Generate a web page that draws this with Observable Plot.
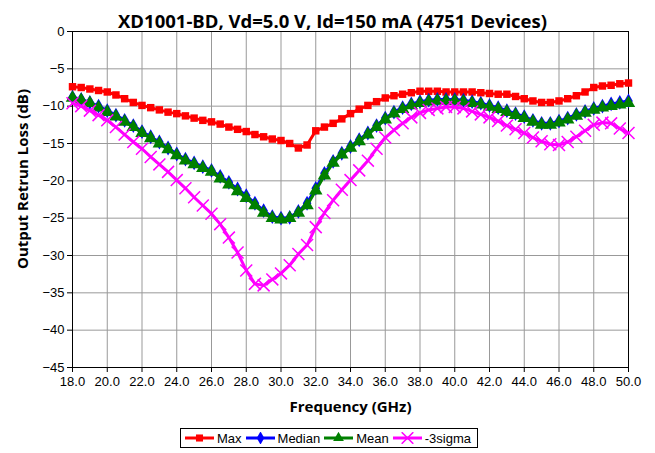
<!DOCTYPE html>
<html>
<head>
<meta charset="utf-8">
<script src="https://cdn.jsdelivr.net/npm/d3@7"></script>
<script src="https://cdn.jsdelivr.net/npm/@observablehq/plot@0.6"></script>
<style>
  html, body { margin: 0; padding: 0; background: #fff; }
  #wrap { position: relative; width: 655px; height: 453px; }
  #legend { position: absolute; left: 180px; top: 428px; height: 20px; border: 1px solid #000;
    display: flex; align-items: center; font-family: "Liberation Sans", Arial, sans-serif; font-size: 13px;
    padding: 0 3px 0 3px; box-sizing: border-box; background: #fff; }
  #legend .item { display: flex; align-items: center; margin-right: 3px; }
  #legend svg { display: block; margin-right: 2px; }
  #ylabel { position: absolute; left: 22px; top: 179px; transform: translate(-50%, -50%) rotate(-90deg);
    white-space: nowrap; font-family: "Open Sans", "DejaVu Sans", sans-serif; font-weight: bold; font-size: 15px; color: #000; }
</style>
</head>
<body>
<div id="wrap">
  <div id="chart"></div>
  <div id="ylabel"></div>
  <div id="legend"></div>
</div>
<script>
const title = "XD1001-BD, Vd=5.0 V, Id=150 mA (4751 Devices)";
const xLabel = "Frequency (GHz)";
const yLabel = "Output Retrun Loss (dB)";
const xTicks = [18, 20, 22, 24, 26, 28, 30, 32, 34, 36, 38, 40, 42, 44, 46, 48, 50];
const yTicks = [0, -5, -10, -15, -20, -25, -30, -35, -40, -45];

const freq = [18, 18.5, 19, 19.5, 20, 20.5, 21, 21.5, 22, 22.5, 23, 23.5, 24, 24.5, 25, 25.5,
  26, 26.5, 27, 27.5, 28, 28.5, 29, 29.5, 30, 30.5, 31, 31.5, 32, 32.5, 33, 33.5,
  34, 34.5, 35, 35.5, 36, 36.5, 37, 37.5, 38, 38.5, 39, 39.5, 40, 40.5, 41, 41.5,
  42, 42.5, 43, 43.5, 44, 44.5, 45, 45.5, 46, 46.5, 47, 47.5, 48, 48.5, 49, 49.5, 50];

const maxVals = [-7.4, -7.5, -7.7, -7.9, -8.1, -8.5, -9.0, -9.5, -9.9, -10.2, -10.5, -10.8, -11.0, -11.3, -11.6, -11.9,
  -12.1, -12.4, -12.8, -13.1, -13.4, -13.8, -14.1, -14.4, -14.6, -15.0, -15.6, -15.2, -13.3, -12.8, -12.3, -11.7,
  -11.0, -10.4, -9.9, -9.4, -8.9, -8.6, -8.4, -8.2, -8.0, -8.0, -8.0, -8.1, -8.1, -8.1, -8.1, -8.2,
  -8.3, -8.4, -8.4, -8.7, -9.0, -9.3, -9.5, -9.5, -9.3, -9.0, -8.6, -8.1, -7.5, -7.3, -7.2, -7.0, -6.9];

const medianVals = [-8.8, -9.1, -9.5, -10.0, -10.6, -11.2, -11.9, -12.6, -13.4, -14.1, -14.8, -15.6, -16.4, -17.1, -17.6, -18.1,
  -18.6, -19.4, -20.2, -21.1, -22.0, -23.0, -24.0, -24.8, -25.0, -24.9, -24.1, -23.0, -21.0, -19.0, -17.4, -16.3,
  -15.4, -14.5, -13.6, -12.6, -11.6, -10.8, -10.2, -9.7, -9.4, -9.2, -9.1, -9.1, -9.1, -9.2, -9.4, -9.6,
  -9.9, -10.2, -10.6, -11.0, -11.4, -11.9, -12.3, -12.3, -12.0, -11.6, -11.1, -10.7, -10.3, -10.0, -9.7, -9.5, -9.3];

const meanVals = [-8.9, -9.2, -9.6, -10.2, -10.8, -11.4, -12.1, -12.8, -13.6, -14.3, -15.0, -15.8, -16.6, -17.3, -17.8, -18.3,
  -18.8, -19.7, -20.5, -21.4, -22.3, -23.3, -24.3, -25.0, -25.2, -25.0, -24.3, -23.3, -21.3, -19.3, -17.6, -16.5,
  -15.6, -14.7, -13.8, -12.8, -11.8, -11.0, -10.4, -9.9, -9.6, -9.4, -9.3, -9.3, -9.3, -9.4, -9.6, -9.8,
  -10.1, -10.4, -10.8, -11.2, -11.6, -12.1, -12.5, -12.5, -12.2, -11.8, -11.3, -10.9, -10.5, -10.2, -10.0, -9.8, -9.6];

const sigmaVals = [-9.6, -10.0, -10.6, -11.2, -11.9, -12.8, -13.8, -14.8, -15.7, -16.8, -17.8, -18.8, -19.9, -21.0, -22.2, -23.3,
  -24.4, -25.8, -27.6, -29.6, -32.0, -33.8, -34.0, -33.2, -32.4, -31.3, -29.8, -28.6, -26.2, -24.3, -22.6, -21.2,
  -19.9, -18.6, -17.3, -15.7, -14.2, -13.2, -12.3, -11.5, -10.9, -10.5, -10.3, -10.1, -10.1, -10.3, -10.7, -11.1,
  -11.5, -12.0, -12.6, -13.1, -13.6, -14.2, -14.7, -15.1, -15.2, -14.8, -14.1, -13.3, -12.5, -12.2, -12.3, -13.0, -13.6];

const seriesNames = ["Max", "Median", "Mean", "-3sigma"];
const seriesColors = ["#ff0000", "#0000ff", "#008000", "#ff00ff"];
const seriesVals = [maxVals, medianVals, meanVals, sigmaVals];

const rows = seriesNames.map((name, i) => freq.map((f, j) => ({series: name, f, v: seriesVals[i][j]})));
const [maxRows, medRows, meanRows, sigRows] = rows;

const bold = "'Open Sans', 'DejaVu Sans', sans-serif";

const chart = Plot.plot({
  width: 655,
  height: 420,
  marginLeft: 72,
  marginRight: 27,
  marginTop: 31,
  marginBottom: 53,
  style: {fontFamily: "'Liberation Sans', Arial, sans-serif", fontSize: "13px", color: "#000", background: "#fff", overflow: "visible"},
  x: {domain: [18, 50]},
  y: {domain: [-45, 0]},
  marks: [
    Plot.gridX(xTicks, {stroke: "#999", strokeOpacity: 1, strokeWidth: 1}),
    Plot.gridY(yTicks, {stroke: "#999", strokeOpacity: 1, strokeWidth: 1}),
    Plot.frame({stroke: "#000", strokeWidth: 1}),
    Plot.axisX(xTicks, {tickSize: 5, tickPadding: 4, tickFormat: d => d.toFixed(1), label: null, fontSize: 13}),
    Plot.axisY(yTicks, {tickSize: 5, tickPadding: 3, label: null, fontSize: 13}),
    // Max
    Plot.line(maxRows, {x: "f", y: "v", stroke: seriesColors[0], strokeWidth: 3}),
    Plot.dot(maxRows, {x: "f", y: "v", symbol: "square", fill: seriesColors[0], r: 4.2}),
    // Median
    Plot.line(medRows, {x: "f", y: "v", stroke: seriesColors[1], strokeWidth: 3}),
    Plot.dot(medRows, {x: "f", y: "v", symbol: "diamond", fill: seriesColors[1], r: 4.5}),
    // Mean
    Plot.line(meanRows, {x: "f", y: "v", stroke: seriesColors[2], strokeWidth: 3}),
    Plot.dot(meanRows, {x: "f", y: "v", symbol: "triangle", fill: seriesColors[2], r: 5}),
    // -3sigma
    Plot.line(sigRows, {x: "f", y: "v", stroke: seriesColors[3], strokeWidth: 3}),
    Plot.dot(sigRows, {x: "f", y: "v", symbol: "times", stroke: seriesColors[3], strokeWidth: 1.5, r: 5.5}),
    // Title and x-axis label
    Plot.text([title], {frameAnchor: "top", lineAnchor: "bottom", dx: -18, dy: -4, text: d => d, fontFamily: bold, fontWeight: "bold", fontSize: 18.5, fill: "#000"}),
    Plot.text([xLabel], {frameAnchor: "bottom", dy: 44, text: d => d, fontFamily: bold, fontWeight: "bold", fontSize: 15, fill: "#000"})
  ]
});
document.getElementById("chart").appendChild(chart);
document.getElementById("ylabel").textContent = yLabel;

// Legend
const legend = d3.select("#legend");
const symbols = ["square", "diamond", "triangle", "times"];
seriesNames.forEach((name, i) => {
  const item = legend.append("div").attr("class", "item");
  const svg = item.append("svg").attr("width", 31).attr("height", 12);
  svg.append("line").attr("x1", 1).attr("x2", 30).attr("y1", 6).attr("y2", 6)
    .attr("stroke", seriesColors[i]).attr("stroke-width", 3);
  const sym = d3.symbol().type({
    square: d3.symbolSquare, diamond: d3.symbolDiamond, triangle: d3.symbolTriangle, times: d3.symbolTimes
  }[symbols[i]]).size(symbols[i] === "times" ? 90 : 50);
  const p = svg.append("path").attr("d", sym()).attr("transform", "translate(15.5,6)");
  if (symbols[i] === "times") p.attr("fill", "none").attr("stroke", seriesColors[i]).attr("stroke-width", 1.5);
  else p.attr("fill", seriesColors[i]);
  item.append("span").text(name);
});
</script>
</body>
</html>
